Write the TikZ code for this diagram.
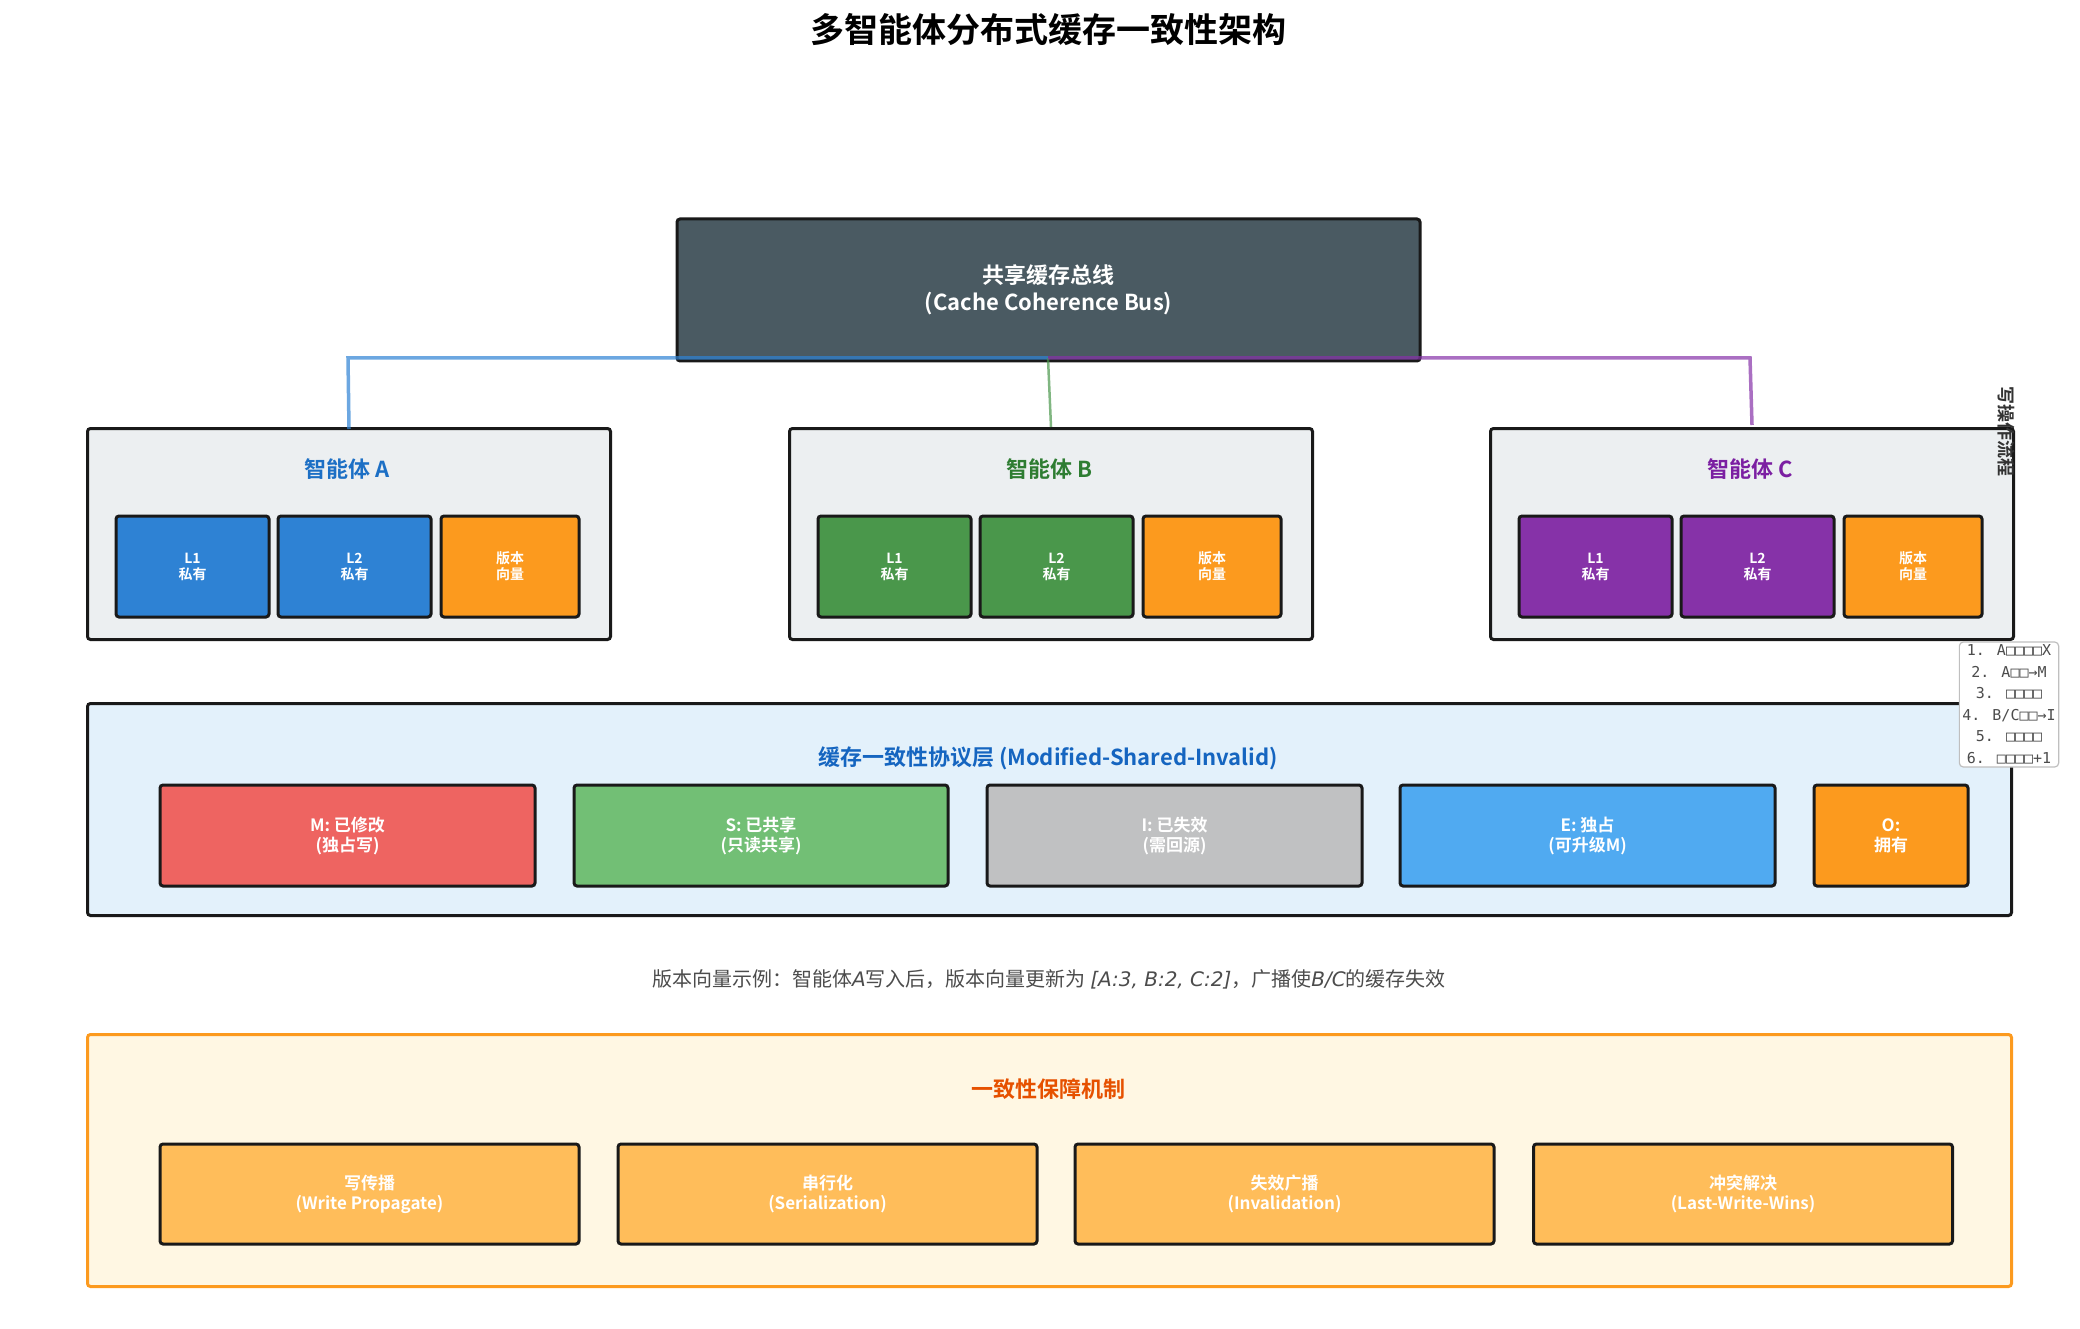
\documentclass[tikz,border=0pt]{standalone}
\usepackage{fontspec}
\setmainfont{Noto Sans CJK SC}[BoldFont={Noto Sans CJK SC Bold}]
\newfontfamily\latit{DejaVu Sans Oblique}
\newfontfamily\monof{DejaVu Sans Mono}
\definecolor{bus}{HTML}{4A5A62}
\definecolor{agbg}{HTML}{ECEFF1}
\definecolor{cblue}{HTML}{2E82D4}
\definecolor{cgreen}{HTML}{4A974B}
\definecolor{cpurp}{HTML}{8632A8}
\definecolor{corange}{HTML}{FC9A1E}
\definecolor{cM}{HTML}{EE6461}
\definecolor{cS}{HTML}{72BF75}
\definecolor{cI}{HTML}{C0C1C2}
\definecolor{cE}{HTML}{50AAF1}
\definecolor{protbg}{HTML}{E3F1FB}
\definecolor{botbg}{HTML}{FFF7E3}
\definecolor{botbox}{HTML}{FFBD5A}
\definecolor{tA}{HTML}{1C6FC5}
\definecolor{tB}{HTML}{2E7D32}
\definecolor{tC}{HTML}{7B1FA2}
\definecolor{tP}{HTML}{1565C0}
\definecolor{tO}{HTML}{E65100}
\begin{document}
\begin{tikzpicture}[x=1pt,y=-1pt,
  box/.style={draw=black!90,line width=3pt,rounded corners=3pt},
  wt/.style={text=white,font=\bfseries,align=center},
  sub/.style={box,wt,font=\bfseries\fontsize{14}{16}\selectfont},
  st/.style={box,wt,font=\bfseries\fontsize{17}{20}\selectfont},
  ttl/.style={font=\bfseries\fontsize{22}{26}\selectfont},
  con/.style={line width=3.5pt,opacity=0.7}]
\useasboundingbox (0,0) rectangle (2080,1329);
\node[font=\bfseries\fontsize{34}{40}\selectfont] (title) at (1048,30) {多智能体分布式缓存一致性架构};
% bus
\node[box,fill=bus,minimum width=743pt,minimum height=142pt,wt,font=\bfseries\fontsize{22}{27}\selectfont] (bus) at (1048.5,290) {共享缓存总线\\(Cache Coherence Bus)};
% agents
\foreach \n/\x/\c/\t/\l in {A/86/cblue/tA/A,B/788/cgreen/tB/B,C/1489/cpurp/tC/C}{
  \node[box,fill=agbg,minimum width=523pt,minimum height=211pt,anchor=north west] (ag\n) at (\x,427) {};
  \node[ttl,text=\t] (agt\n) at (\x+261.5,469) {智能体 \l};
  \node[sub,fill=\c,minimum width=153pt,minimum height=101pt] (l1\n) at (\x+106.5,566.5) {L1\\私有};
  \node[sub,fill=\c,minimum width=153pt,minimum height=101pt] (l2\n) at (\x+268.5,566.5) {L2\\私有};
  \node[sub,fill=corange,minimum width=138pt,minimum height=101pt] (vv\n) at (\x+424,566.5) {版本\\向量};
}
\coordinate (jA) at (348,358);
\coordinate (jB) at (1048,358);
\coordinate (jC) at (1750,358);
\draw[con,draw=cblue] (agA.north) ++(0,2) -- (jA) -- (jB);
\draw[con,draw=cgreen,line width=2.5pt] (jB) -- (agB.north);
\draw[con,draw=cpurp] (jB) -- (jC) -- ([yshift=2pt]agC.north);
% protocol layer
\node[box,fill=protbg,minimum width=1924pt,minimum height=212pt,anchor=north west] (prot) at (86,702) {};
\node[ttl,text=tP] (prott) at (1048,758) {缓存一致性协议层 (Modified-Shared-Invalid)};
\node[st,fill=cM,minimum width=375pt,minimum height=101pt] (sM) at (347.5,835.5) {M: 已修改\\(独占写)};
\node[st,fill=cS,minimum width=374pt,minimum height=101pt] (sS) at (761,835.5) {S: 已共享\\(只读共享)};
\node[st,fill=cI,minimum width=375pt,minimum height=101pt] (sI) at (1174.5,835.5) {I: 已失效\\(需回源)};
\node[st,fill=cE,minimum width=375pt,minimum height=101pt] (sE) at (1587.5,835.5) {E: 独占\\(可升级M)};
\node[st,fill=corange,minimum width=154pt,minimum height=101pt] (sO) at (1891,835.5) {O:\\拥有};
% side note
\node[rotate=-90,font=\bfseries\fontsize{18}{20}\selectfont,text=black!80] (wf) at (2006,432) {写操作流程};
\node[draw=black!25,line width=1.2pt,fill=white,rounded corners=4pt,align=center,font=\monof\fontsize{15}{21.5}\selectfont,text=black!70,inner sep=3pt] (note) at (2009,704.5) {1. A□□□□X\\2. A□□→M\\3. □□□□\\4. B/C□□→I\\5. □□□□\\6. □□□□+1};
% version line
\node[font=\fontsize{20}{24}\selectfont,text=black!70] (ver) at (1049,979) {版本向量示例：智能体{\latit A}写入后，版本向量更新为 {\latit [A:3, B:2, C:2]}，广播使{\latit B/C}的缓存失效};
% bottom
\node[draw=corange,line width=3pt,rounded corners=3pt,fill=botbg,minimum width=1924pt,minimum height=252pt,anchor=north west] (bot) at (86,1033) {};
\node[ttl,text=tO] (bott) at (1048,1089) {一致性保障机制};
\foreach \i/\x/\t in {1/369.5/写传播\\(Write Propagate),2/827.5/串行化\\(Serialization),3/1284.5/失效广播\\(Invalidation),4/1743/冲突解决\\(Last-Write-Wins)}{
  \node[st,fill=botbox,minimum width=419pt,minimum height=100pt] (g\i) at (\x,1194) {\t};
}
\end{tikzpicture}
\end{document}
